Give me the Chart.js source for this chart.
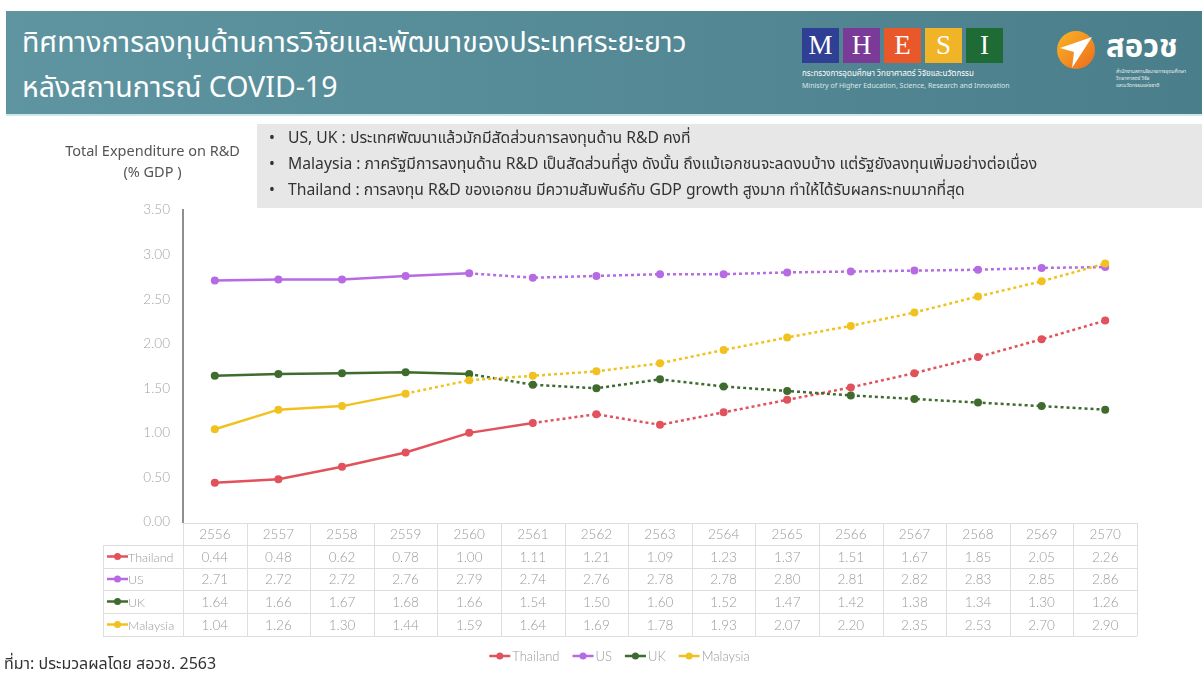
<!DOCTYPE html>
<html lang="th">
<head>
<meta charset="utf-8">
<title>ทิศทางการลงทุนด้านการวิจัยและพัฒนา</title>
<script src="https://cdn.jsdelivr.net/npm/chart.js@4.4.1/dist/chart.umd.min.js"></script>
<style>
  html, body { margin: 0; padding: 0; background: #fff; }
  body { width: 1202px; height: 677px; position: relative; overflow: hidden;
         font-family: "Noto Sans Thai", "Noto Sans", "DejaVu Sans", sans-serif; }
  #chart { position: absolute; left: 0; top: 0; }
  .header { position: absolute; left: 6px; top: 11px; width: 1196px; height: 103px;
            background: linear-gradient(to right, #5e95a1, #4b7e8b);
            border-bottom: 2px solid #cfe6ea; }
  .title { position: absolute; left: 16px; color: #fff; font-size: 28.5px; white-space: nowrap; }
  .mhesi { position: absolute; left: 796px; top: 17px; }
  .mhesi span { display: inline-block; width: 37px; height: 35px; margin-right: 4px; color: #fff;
                font-family: "Liberation Serif", serif; font-size: 27px; text-align: center; line-height: 35px; }
  .mhesi .th { color: #fff; font-size: 8px; margin-top: 5px; white-space: nowrap; }
  .mhesi .en { color: #d8e6ea; font-size: 7px; margin-top: 1px; white-space: nowrap; }
  .nxpo { position: absolute; left: 1048px; top: 17px; }
  .nxpo .name { position: absolute; left: 52px; top: -4px; color: #fff; font-size: 31px; font-weight: bold; white-space: nowrap; }
  .nxpo .sub { position: absolute; left: 62px; top: 40px; color: #e6eef0; font-size: 5px; line-height: 7px; white-space: nowrap; }
  .notes { position: absolute; left: 257px; top: 124px; width: 945px; height: 84px; background: #e7e7e7;
           color: #333; font-size: 15.7px; }
  .notes div { position: absolute; left: 12px; white-space: nowrap; }
  .notes b { font-weight: normal; display: inline-block; width: 19px; }
  .ytitle { position: absolute; left: 50px; top: 142px; width: 205px; text-align: center; color: #555;
            font-size: 14.5px; line-height: 21px; }
  .source { position: absolute; left: 4px; top: 652px; color: #333; font-size: 16px; }
</style>
</head>
<body>
<canvas id="chart" width="1202" height="677"></canvas>

<div class="header">
  <div class="title" style="top: 11px;">ทิศทางการลงทุนด้านการวิจัยและพัฒนาของประเทศระยะยาว</div>
  <div class="title" style="top: 56px;">หลังสถานการณ์ COVID-19</div>
  <div class="mhesi">
    <span style="background:#2f3f94">M</span><span style="background:#7a3b98">H</span><span style="background:#e9582b">E</span><span style="background:#f1b427">S</span><span style="background:#1f6b36">I</span>
    <div class="th">กระทรวงการอุดมศึกษา วิทยาศาสตร์ วิจัยและนวัตกรรม</div>
    <div class="en">Ministry of Higher Education, Science, Research and Innovation</div>
  </div>
  <div class="nxpo">
    <svg width="44" height="44" viewBox="0 0 44 44">
      <defs>
        <linearGradient id="g" x1="0" y1="0" x2="1" y2="1">
          <stop offset="0" stop-color="#f8b724"/>
          <stop offset="1" stop-color="#ee6a1e"/>
        </linearGradient>
      </defs>
      <circle cx="22" cy="22" r="19" fill="url(#g)"/>
      <polygon points="6,20 38,9 18,40 20,24" fill="#fff"/>
    </svg>
    <div class="name">สอวช</div>
    <div class="sub">สำนักงานสภานโยบายการอุดมศึกษา<br>วิทยาศาสตร์ วิจัย<br>และนวัตกรรมแห่งชาติ</div>
  </div>
</div>

<div class="notes">
  <div style="top: 2px;"><b>•</b>US, UK : ประเทศพัฒนาแล้วมักมีสัดส่วนการลงทุนด้าน R&amp;D คงที่</div>
  <div style="top: 28px;"><b>•</b>Malaysia : ภาครัฐมีการลงทุนด้าน R&amp;D เป็นสัดส่วนที่สูง ดังนั้น ถึงแม้เอกชนจะลดงบบ้าง แต่รัฐยังลงทุนเพิ่มอย่างต่อเนื่อง</div>
  <div style="top: 54px;"><b>•</b>Thailand : การลงทุน R&amp;D ของเอกชน มีความสัมพันธ์กับ GDP growth สูงมาก ทำให้ได้รับผลกระทบมากที่สุด</div>
</div>

<div class="ytitle">Total Expenditure on R&amp;D<br>(% GDP )</div>
<div class="source">ที่มา: ประมวลผลโดย สอวช. 2563</div>

<script>
// years (Thai Buddhist era) and R&D spending as % of GDP
var years = ['2556', '2557', '2558', '2559', '2560', '2561', '2562', '2563',
             '2564', '2565', '2566', '2567', '2568', '2569', '2570'];
var thailand = [0.44, 0.48, 0.62, 0.78, 1.00, 1.11, 1.21, 1.09, 1.23, 1.37, 1.51, 1.67, 1.85, 2.05, 2.26];
var us       = [2.71, 2.72, 2.72, 2.76, 2.79, 2.74, 2.76, 2.78, 2.78, 2.80, 2.81, 2.82, 2.83, 2.85, 2.86];
var uk       = [1.64, 1.66, 1.67, 1.68, 1.66, 1.54, 1.50, 1.60, 1.52, 1.47, 1.42, 1.38, 1.34, 1.30, 1.26];
var malaysia = [1.04, 1.26, 1.30, 1.44, 1.59, 1.64, 1.69, 1.78, 1.93, 2.07, 2.20, 2.35, 2.53, 2.70, 2.90];

// last index of actual data; after this the line is a projection (dotted)
var lastActual = { Thailand: 5, US: 4, UK: 4, Malaysia: 3 };

var colors = { Thailand: '#e2525c', US: '#b66be4', UK: '#3f6b2e', Malaysia: '#f1c21f' };

var textGrey = '#9a9a9a';
var tableFont = '300 13.5px Lato, "Noto Sans", sans-serif';

function makeSet(name, values, order) {
    return {
        label: name,
        data: values,
        borderColor: colors[name],
        backgroundColor: colors[name],
        borderWidth: 2.5,
        pointRadius: 4,
        pointHoverRadius: 4,
        pointBorderWidth: 0,
        order: order,
        segment: {
            borderDash: function (ctx) {
                return ctx.p0DataIndex >= lastActual[name] ? [3, 3] : undefined;
            }
        }
    };
}

// data table under the plot + legend at the bottom
var tablePlugin = {
    id: 'dataTable',
    afterDraw: function (chart) {
        var ctx = chart.ctx;
        var x = chart.scales.x;
        var area = chart.chartArea;
        var colW = x.getPixelForValue(1) - x.getPixelForValue(0);
        var tableLeft = 103;
        var tableRight = area.right;
        var rowTop = [523, 545, 568, 590, 613, 636];
        var sets = chart.data.datasets;

        ctx.save();
        ctx.strokeStyle = '#dedede';
        ctx.lineWidth = 1;
        // horizontal lines
        for (var r = 0; r < rowTop.length; r++) {
            var left = r === 0 ? area.left : tableLeft;
            ctx.beginPath();
            ctx.moveTo(left, rowTop[r] + 0.5);
            ctx.lineTo(tableRight, rowTop[r] + 0.5);
            ctx.stroke();
        }
        // vertical lines
        ctx.beginPath();
        ctx.moveTo(tableLeft + 0.5, rowTop[1]);
        ctx.lineTo(tableLeft + 0.5, rowTop[5]);
        for (var c = 0; c <= years.length; c++) {
            var vx = Math.round(area.left + c * colW) + 0.5;
            ctx.moveTo(vx, rowTop[0]);
            ctx.lineTo(vx, rowTop[5]);
        }
        ctx.stroke();

        ctx.font = tableFont;
        ctx.fillStyle = textGrey;
        ctx.textAlign = 'center';
        ctx.textBaseline = 'middle';
        for (var i = 0; i < years.length; i++) {
            var cx = x.getPixelForValue(i);
            ctx.fillText(years[i], cx, (rowTop[0] + rowTop[1]) / 2 + 1);
            for (var s = 0; s < sets.length; s++) {
                var cy = (rowTop[s + 1] + rowTop[s + 2]) / 2 + 1;
                ctx.fillText(sets[s].data[i].toFixed(2), cx, cy);
            }
        }

        // row headers: marker + country name
        ctx.font = '300 12.5px Lato, "Noto Sans", sans-serif';
        ctx.textAlign = 'left';
        for (var s = 0; s < sets.length; s++) {
            var my = (rowTop[s + 1] + rowTop[s + 2]) / 2;
            drawMarker(ctx, 107, my, sets[s].borderColor);
            ctx.fillStyle = textGrey;
            ctx.fillText(sets[s].label, 128, my + 1);
        }

        // legend, centred under the table
        ctx.font = '300 13px Lato, "Noto Sans", sans-serif';
        var gap = 12, markW = 22;
        var widths = sets.map(function (d) { return markW + 2 + ctx.measureText(d.label).width; });
        var total = widths.reduce(function (a, b) { return a + b; }, 0) + gap * (sets.length - 1);
        var lx = (tableLeft + tableRight) / 2 - total / 2;
        var ly = 656;
        for (var s = 0; s < sets.length; s++) {
            drawMarker(ctx, lx, ly, sets[s].borderColor);
            ctx.fillStyle = textGrey;
            ctx.fillText(sets[s].label, lx + markW + 1, ly + 1);
            lx += widths[s] + gap;
        }
        ctx.restore();
    }
};

function drawMarker(ctx, x0, y, color) {
    ctx.save();
    ctx.strokeStyle = color;
    ctx.fillStyle = color;
    ctx.lineWidth = 2.5;
    ctx.beginPath();
    ctx.moveTo(x0, y);
    ctx.lineTo(x0 + 21, y);
    ctx.stroke();
    ctx.beginPath();
    ctx.arc(x0 + 10.5, y, 3.5, 0, Math.PI * 2);
    ctx.fill();
    ctx.restore();
}

var ctx = document.getElementById('chart').getContext('2d');
var rdChart = new Chart(ctx, {
    type: 'line',
    data: {
        labels: years,
        datasets: [
            makeSet('Thailand', thailand, 3),
            makeSet('US', us, 2),
            makeSet('UK', uk, 1),
            makeSet('Malaysia', malaysia, 0)
        ]
    },
    options: {
        responsive: false,
        animation: false,
        events: [],
        layout: { padding: { left: 0, top: 210, right: 65, bottom: 155 } },
        plugins: {
            legend: { display: false },
            tooltip: { enabled: false }
        },
        scales: {
            x: {
                display: false,
                offset: true
            },
            y: {
                min: 0,
                max: 3.5,
                afterFit: function (scale) { scale.width = 183; },
                grid: { display: false, drawTicks: false },
                border: { display: true, color: '#8f8f8f', width: 2 },
                ticks: {
                    stepSize: 0.5,
                    padding: 13,
                    color: '#a3a3a3',
                    font: { family: 'Lato, "Noto Sans", sans-serif', size: 13.5, weight: '300' },
                    callback: function (v) { return v.toFixed(2); }
                }
            }
        }
    },
    plugins: [tablePlugin]
});
</script>
</body>
</html>
